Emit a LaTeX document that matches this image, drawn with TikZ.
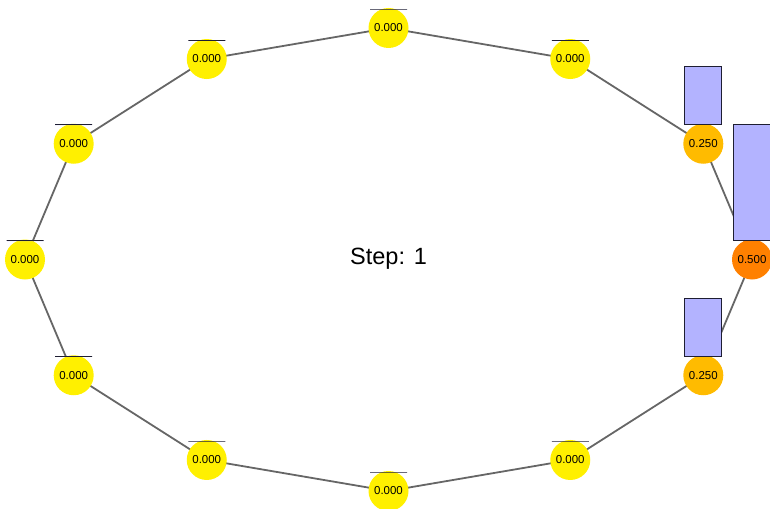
\documentclass[tikz,border=0pt]{standalone}
\usepackage{fontspec}
\setmainfont{Liberation Sans}
\definecolor{yel}{RGB}{255,240,0}
\definecolor{orq}{RGB}{255,187,0}
\definecolor{orh}{RGB}{255,128,0}
\definecolor{barfill}{RGB}{179,179,255}
\definecolor{edgegray}{RGB}{102,102,102}
\definecolor{barline}{RGB}{30,30,50}
\begin{document}
\begin{tikzpicture}[x=1pt,y=-1pt,
  vertex/.style={circle,minimum size=40pt,inner sep=0pt,font=\fontsize{11.5}{12}\selectfont},
  ring/.style={draw=edgegray,line width=1.8pt},
  bar/.style={draw=barline,fill=barfill,line width=0.9pt}]
\useasboundingbox (0,0) rectangle (770,508);
\foreach \i/\v/\c in {0/0.500/orh,1/0.250/orq,2/0.000/yel,3/0.000/yel,4/0.000/yel,5/0.000/yel,6/0.000/yel,7/0.000/yel,8/0.000/yel,9/0.000/yel,10/0.000/yel,11/0.250/orq}{
  \coordinate (p\i) at ({388.5+363.5*cos(30*\i)},{259.5-231.5*sin(30*\i)});
}
\foreach \i [evaluate=\i as \j using {int(mod(\i+1,12))}] in {0,...,11}{
  \draw[ring] (p\i) -- (p\j);
}
\foreach \i/\v/\c in {0/0.500/orh,1/0.250/orq,2/0.000/yel,3/0.000/yel,4/0.000/yel,5/0.000/yel,6/0.000/yel,7/0.000/yel,8/0.000/yel,9/0.000/yel,10/0.000/yel,11/0.250/orq}{
  \node[vertex,fill=\c] (n\i) at (p\i) {\v};
  \draw[bar] ([xshift=-18.5pt,yshift=19pt]p\i) rectangle ([xshift=18.5pt,yshift={19pt+232pt*\v}]p\i);
}
\node[font=\fontsize{23.5}{28}\selectfont] (step) at (388.5,259) {Step: 1};
\end{tikzpicture}
\end{document}
